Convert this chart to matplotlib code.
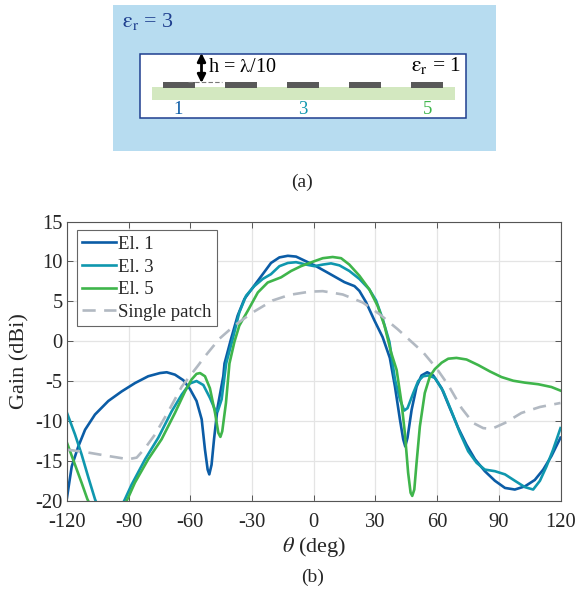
import matplotlib
matplotlib.use("Agg")
import matplotlib.pyplot as plt
from matplotlib.patches import Rectangle

plt.rcParams['font.family'] = ['Liberation Serif', 'DejaVu Serif']
plt.rcParams['mathtext.fontset'] = 'stix'
plt.rcParams['axes.unicode_minus'] = False

el1_theta = [-120,-117.7,-114.5,-111.2,-106.4,-99.9,-93.4,-86.9,-80.5,-74.8,-71.5,-67.5,-63.4,-60.2,-57,-54.5,-52.9,-51.6,-50.8,-49.7,-48.5,-46.7,-44,-43.4,-40.2,-37,-33.7,-29.7,-24.8,-20.8,-16.7,-12.6,-8.6,-3.7,1.1,6,10.8,14.9,19.8,22.2,25.4,29.5,33.5,37,39.5,41.9,43.5,44.5,45.6,47.6,50,52.4,55.2,58.1,62.2,66.2,70.3,74.3,78.4,83.2,88.1,93,97.8,102.7,107.5,111.6,115.6,120]
el1_gain = [-19.6,-15.7,-13.2,-11.1,-9.2,-7.5,-6.3,-5.25,-4.4,-4,-3.9,-4.2,-4.9,-6,-7.5,-9.8,-13.6,-16.1,-16.7,-15.5,-12.3,-8.2,-4.4,-2.8,0.3,3.2,5.3,6.7,8.4,9.8,10.5,10.7,10.6,10,9.4,8.7,8,7.4,6.9,6.3,4.9,2.6,0.5,-2.1,-5.7,-9.8,-12.3,-13.2,-12.1,-8.6,-5.7,-4.3,-3.9,-4.3,-5.9,-8.4,-10.9,-13,-14.8,-16.3,-17.5,-18.4,-18.6,-18.2,-17.4,-16.1,-14.4,-12.1]

el3_theta = [-120,-116.1,-112.9,-109.6,-106.4,-103,-97,-91.8,-88.6,-82,-75.6,-69.1,-64.2,-60.2,-57,-53.7,-50.5,-48,-46.7,-44.8,-42.6,-39.4,-36.2,-32.9,-28.9,-24.8,-20.8,-16.7,-12.6,-8.6,-3.7,0.3,4.4,8.4,12.5,17.3,22.2,27,30.3,33.5,36.8,39.5,41.9,44,45.6,48.4,50.8,53.2,55.7,58.9,63,67,71.1,75.1,79.2,83.2,88.1,93,97.8,102.7,106.7,110,113.2,116.4,120]
el3_gain = [-9,-11.7,-14.2,-17.1,-19.8,-22,-22.5,-19.8,-18,-14.8,-12.1,-8.8,-6.7,-5.3,-5,-5.5,-7.1,-8.6,-8.8,-7.3,-2.8,0.3,3.6,5.7,6.9,7.8,8.4,9.4,9.8,9.9,9.6,9.4,9.6,9.75,9.5,8.8,7.8,6.5,5.1,2.8,-0.1,-4.8,-7.3,-8.7,-8.4,-6.5,-5,-4.4,-4.3,-4.6,-6.3,-8.8,-11.5,-13.8,-15.25,-16.1,-16.3,-16.7,-17.5,-18.3,-18.6,-17.5,-15.7,-13.6,-10.9]

el5_theta = [-120,-116.1,-112.9,-110.1,-105,-96,-90.2,-87,-80.5,-74,-67.5,-62.6,-59.4,-57,-55.3,-52.9,-50.5,-48,-46.4,-45.4,-44.5,-42.7,-41,-38.6,-36.2,-32.1,-27.2,-22.4,-15.9,-11,-6.2,-0.5,4.4,9.2,13.3,17.3,22.2,27,31.1,34.4,37.6,40.3,42.7,44.3,45.9,47.1,47.9,48.9,50,51.6,54,56.5,58.9,62.2,65.4,69.4,74.3,80,85.7,91.3,97,102.7,109.2,115.6,120]
el5_gain = [-12.75,-15.5,-17.75,-19.8,-22.5,-22.5,-19.6,-17.75,-14.8,-12.3,-9,-6.3,-4.8,-4.1,-4,-4.4,-5.9,-9,-11.5,-12,-11.3,-7.75,-2.8,-0.1,1.95,3.8,6.1,7.35,8,8.8,9.4,9.95,10.4,10.55,10.4,9.6,8.2,6.5,4.4,1.95,-1.4,-3.6,-7.75,-11.5,-16.5,-19,-19.4,-18.6,-15.25,-10.7,-6.5,-4.4,-3.5,-2.7,-2.2,-2.1,-2.3,-3,-3.8,-4.5,-4.96,-5.2,-5.4,-5.75,-6.2]

patch_theta = [-120,-111.2,-99.9,-90.2,-86.1,-82,-77.2,-70.7,-64.2,-56.1,-53.2,-45.9,-38.6,-29.7,-20,-11.8,-2.1,4.4,14.1,23.8,31.9,40.8,53.2,59.7,65.4,71.9,77.5,82.4,86.5,93,101,110,120]
patch_gain = [-13.6,-13.9,-14.4,-14.8,-14.6,-13.4,-11.7,-8.8,-5.7,-3,-2,0.3,1.95,3.6,5.1,5.8,6.2,6.27,5.85,4.85,3.4,1.5,-1.4,-3.4,-5.5,-8.4,-10.25,-10.9,-11,-10.25,-9,-8.25,-7.75]

x_ticks = [-120,-90,-60,-30,0,30,60,90,120]
y_ticks = [-20,-15,-10,-5,0,5,10,15]
element_numbers = ['1','3','5']

W, H = 577, 599
BLUE, TEAL, GREEN, GRAY = '#0b5ca6', '#0f97ae', '#3fb54b', '#b2b9c2'
TXT = '#262626'

fig = plt.figure(figsize=(W/100, H/100), dpi=100)

# schematic panel, drawn in pixel coordinates
bg = fig.add_axes([0, 0, 1, 1])
bg.set_xlim(0, W); bg.set_ylim(H, 0); bg.axis('off')
bg.add_patch(Rectangle((112.7, 5), 383, 146, fc='#b7dcf0', ec='none'))
bg.add_patch(Rectangle((140, 54), 326, 64, fc='white', ec='#1f3f8f', lw=1.1))
bg.add_patch(Rectangle((152, 87.3), 303, 12.7, fc='#d3e8c0', ec='none'))
for x0 in [163.3, 225.3, 287.3, 349.3, 411.3]:
    bg.add_patch(Rectangle((x0, 82.3), 32, 6, fc='#595959', ec='none'))
bg.plot([188, 222], [82.3, 82.3], color='#777777', lw=0.8, ls=(0, (4, 2)))
bg.annotate('', xy=(201.5, 53), xytext=(201.5, 83),
            arrowprops=dict(arrowstyle='<|-|>', color='black', lw=2, mutation_scale=12, shrinkA=0, shrinkB=0))
bg.text(122, 21, r'$\mathrm{\varepsilon_{r}}$ = 3', color='#1f3f8f', fontsize=15.8, ha='left', va='center')
bg.text(208, 67, r'h = $\mathrm{\lambda}$/10', color='black', fontsize=14.5, ha='left', va='center')
bg.text(411, 66, r'$\mathrm{\varepsilon_{r}}$ = 1', color='black', fontsize=15.5, ha='left', va='center')
for x0, c, s in zip([178, 303, 428], [BLUE, TEAL, GREEN], element_numbers):
    bg.text(x0, 109, s, color=c, fontsize=13.5, ha='center', va='center')
bg.text(302, 182, '(a)', color=TXT, fontsize=14, ha='center', va='center')
bg.text(313, 577, '(b)', color=TXT, fontsize=14, ha='center', va='center')

# gain plot
ax = fig.add_axes([67/W, 1-500.7/H, 493.5/W, 279.2/H])
ax.plot(el1_theta, el1_gain, color=BLUE, lw=1.9, label='El. 1', solid_joinstyle='round')
ax.plot(el3_theta, el3_gain, color=TEAL, lw=1.9, label='El. 3', solid_joinstyle='round')
ax.plot(el5_theta, el5_gain, color=GREEN, lw=1.9, label='El. 5', solid_joinstyle='round')
ax.plot(patch_theta, patch_gain, color=GRAY, lw=1.9, ls=(0, (5, 3.2)), label='Single patch')
ax.set_xlim(-120, 120); ax.set_ylim(-20, 15)
ax.set_xticks(x_ticks); ax.set_yticks(y_ticks)
ax.grid(True, color='#e4e4e4', lw=0.9)
ax.set_axisbelow(True)
ax.tick_params(direction='in', top=True, right=True, length=4, width=0.7, color='#555555',
               labelcolor=TXT, labelsize=14.8, pad=3)
ax.tick_params(axis='x', pad=9)
for s in ax.spines.values():
    s.set_color('#555555'); s.set_linewidth(0.8)
ax.set_xlabel(r'$\mathit{\theta}$ (deg)', fontsize=16, color=TXT, labelpad=2)
ax.set_ylabel('Gain (dBi)', fontsize=16, color=TXT, labelpad=4)
leg = ax.legend(loc='upper left', bbox_to_anchor=(0.0195, 0.968), borderaxespad=0, fontsize=13.5,
                fancybox=False, framealpha=1, edgecolor='#666666', labelcolor=TXT,
                labelspacing=0.3, handlelength=1.8, handletextpad=0.15, borderpad=0.28)
leg.get_frame().set_linewidth(0.8)

fig.savefig('out.png', dpi=100)
